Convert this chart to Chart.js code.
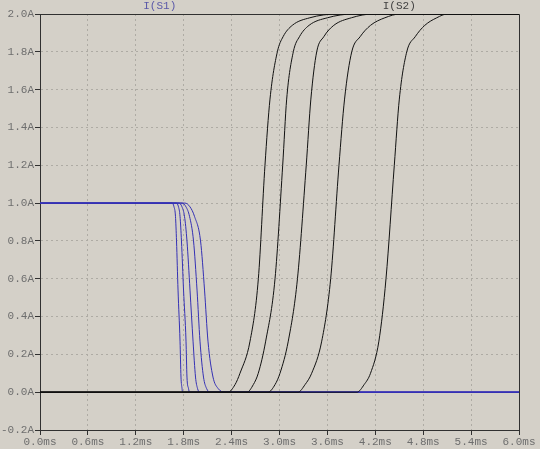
<!DOCTYPE html>
<html lang="en">
    <head>
        <meta charset="UTF-8" />
        <title>I(S1) / I(S2)</title>
        <script src="https://cdn.jsdelivr.net/npm/chart.js"></script>
        <style>
            body {
                margin: 0;
                background: #d4d0c8;
            }
            .wrap {
                width: 540px;
                height: 449px;
            }
        </style>
    </head>
    <body>
        <div class="wrap"><canvas id="plot"></canvas></div>

        <script>
	// tick values
	const xTickValues = [0, 0.6, 1.2, 1.8, 2.4, 3.0, 3.6, 4.2, 4.8, 5.4, 6.0];
	const yTickValues = [-0.2, 0, 0.2, 0.4, 0.6, 0.8, 1.0, 1.2, 1.4, 1.6, 1.8, 2.0];

	// I(S1): current levels (A) and the times (ms) at which each curve passes them
	const s1Levels = [1.0, 1.0, 0.98, 0.93, 0.8, 0.54, 0.27, 0.08, 0.02, 0.0, 0.0];
	const s1Time1 = [0, 1.654, 1.679, 1.697, 1.710, 1.729, 1.754, 1.766, 1.779, 1.785, 6.0];
	const s1Time2 = [0, 1.704, 1.735, 1.754, 1.772, 1.798, 1.829, 1.841, 1.860, 1.873, 6.0];
	const s1Time3 = [0, 1.741, 1.779, 1.810, 1.841, 1.879, 1.917, 1.948, 1.973, 1.998, 6.0];
	const s1Time4 = [0, 1.779, 1.829, 1.873, 1.923, 1.967, 2.004, 2.048, 2.086, 2.130, 6.0];
	const s1Time5 = [0, 1.816, 1.879, 1.935, 2.011, 2.061, 2.104, 2.167, 2.230, 2.317, 6.0];

	// I(S2)
	const s2Levels = [0, 0, 0.04, 0.1, 0.27, 0.6, 1.2, 1.55, 1.8, 1.88, 1.94, 1.98, 2.0, 2.0];
	const s2Time1 = [0, 2.355, 2.443, 2.505, 2.631, 2.735, 2.818, 2.881, 2.973, 3.045, 3.16, 3.38, 3.72, 6.0];
	const s2Time2 = [0, 2.593, 2.672, 2.734, 2.827, 2.944, 3.040, 3.090, 3.173, 3.25, 3.37, 3.60, 3.92, 6.0];
	const s2Time3 = [0, 2.856, 2.944, 3.006, 3.110, 3.225, 3.335, 3.393, 3.466, 3.555, 3.68, 3.90, 4.17, 6.0];
	const s2Time4 = [0, 3.232, 3.320, 3.403, 3.529, 3.641, 3.745, 3.815, 3.905, 4.01, 4.14, 4.32, 4.51, 6.0];
	const s2Time5 = [0, 3.971, 4.06, 4.14, 4.245, 4.334, 4.438, 4.501, 4.594, 4.70, 4.82, 4.97, 5.10, 6.0];

	const traceLabels = [
		{text: 'I(S1)', at: 1.5, color: '#5a58a8'},
		{text: 'I(S2)', at: 4.5, color: '#404040'}
	];

	const FONT = '11px "Liberation Mono", "DejaVu Sans Mono", monospace';
	const BLUE = '#3430b4';
	const BLACK = '#111111';

	function makeSet(times, levels, color, order) {
		return {
			data: times.map((t, i) => ({x: t, y: levels[i]})),
			borderColor: color,
			borderWidth: 1,
			pointRadius: 0,
			fill: false,
			cubicInterpolationMode: 'monotone',
			order: order
		};
	}

	const datasets = [
		makeSet(s2Time1, s2Levels, BLACK, 0),
		makeSet(s2Time2, s2Levels, BLACK, 0),
		makeSet(s2Time3, s2Levels, BLACK, 0),
		makeSet(s2Time4, s2Levels, BLACK, 0),
		makeSet(s2Time5, s2Levels, BLACK, 0),
		makeSet(s1Time1, s1Levels, BLUE, 1),
		makeSet(s1Time2, s1Levels, BLUE, 1),
		makeSet(s1Time3, s1Levels, BLUE, 1),
		makeSet(s1Time4, s1Levels, BLUE, 1),
		makeSet(s1Time5, s1Levels, BLUE, 1)
	];

	// solid frame on top/right + trace names above the plot
	const framePlugin = {
		id: 'frame',
		beforeDatasetsDraw(chart) {
			const {ctx, chartArea: a} = chart;
			ctx.save();
			ctx.strokeStyle = '#303030';
			ctx.lineWidth = 1;
			ctx.beginPath();
			ctx.moveTo(a.left, a.top + 0.5);
			ctx.lineTo(a.right + 0.5, a.top + 0.5);
			ctx.lineTo(a.right + 0.5, a.bottom);
			ctx.stroke();
			ctx.restore();
		},
		afterDraw(chart) {
			const {ctx} = chart;
			const xs = chart.scales.x;
			ctx.save();
			ctx.font = FONT;
			ctx.textAlign = 'center';
			ctx.textBaseline = 'middle';
			traceLabels.forEach(l => {
				ctx.fillStyle = l.color;
				ctx.fillText(l.text, xs.getPixelForValue(l.at), 6);
			});
			ctx.restore();
		}
	};

	new Chart(document.getElementById('plot'), {
		type: 'line',
		data: {datasets},
		plugins: [framePlugin],
		options: {
			responsive: true,
			maintainAspectRatio: false,
			animation: false,
			events: [],
			layout: {padding: {left: 0, right: 21, top: 14, bottom: 0}},
			plugins: {
				legend: {display: false},
				tooltip: {enabled: false}
			},
			scales: {
				x: {
					type: 'linear',
					min: 0,
					max: 6,
					afterBuildTicks: s => { s.ticks = xTickValues.map(v => ({value: v})); },
					afterFit: s => { s.height = 19; },
					ticks: {
						color: '#6e6e6e',
						font: {family: '"Liberation Mono", monospace', size: 11},
						padding: 0,
						maxRotation: 0,
						autoSkip: false,
						callback: v => v.toFixed(1) + 'ms'
					},
					grid: {
						color: '#aeaba4',
						tickColor: '#303030',
						tickLength: 5,
						drawTicks: true
					},
					border: {display: true, color: '#303030', width: 1, dash: [2, 3]}
				},
				y: {
					type: 'linear',
					min: -0.2,
					max: 2.0,
					afterBuildTicks: s => { s.ticks = yTickValues.map(v => ({value: v})); },
					afterFit: s => { s.width = 40; },
					ticks: {
						color: '#6e6e6e',
						font: {family: '"Liberation Mono", monospace', size: 11},
						padding: 1,
						autoSkip: false,
						callback: v => v.toFixed(1) + 'A'
					},
					grid: {
						color: '#aeaba4',
						tickColor: '#303030',
						tickLength: 5,
						drawTicks: true
					},
					border: {display: true, color: '#303030', width: 1, dash: [2, 3]}
				}
			}
		}
	});
        </script>
    </body>
</html>
